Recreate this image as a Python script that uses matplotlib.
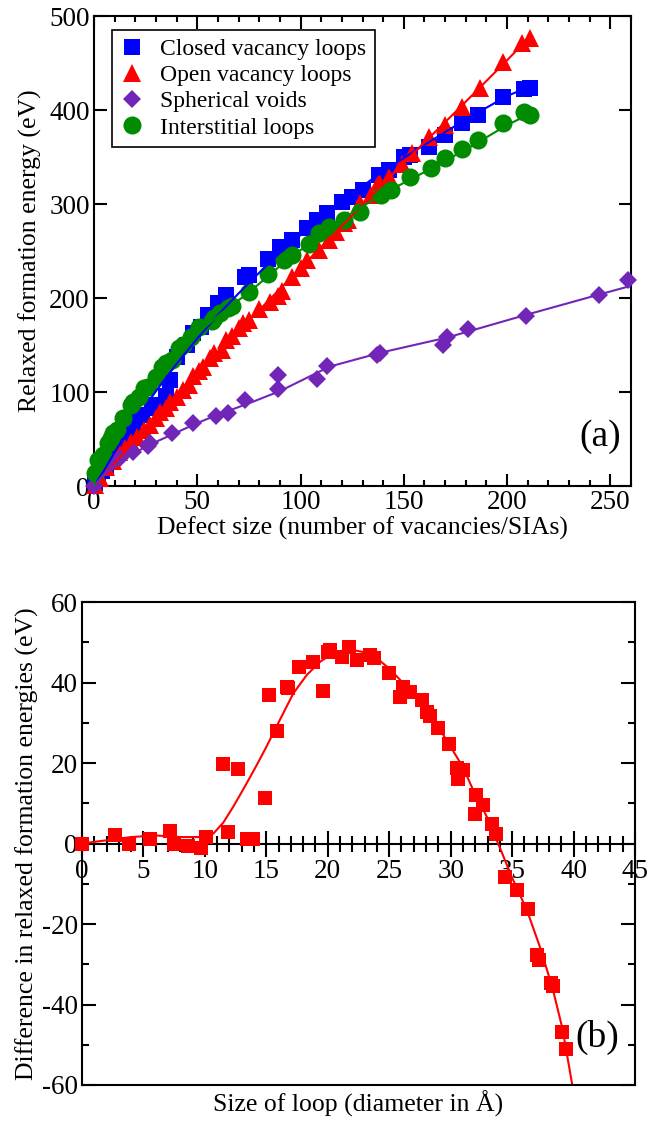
"""Formation energies of vacancy/interstitial defects and the open-minus-closed loop difference."""
import matplotlib
matplotlib.use("Agg")
import matplotlib.pyplot as plt
from matplotlib.ticker import MultipleLocator

plt.rcParams["font.family"] = ["Liberation Serif", "DejaVu Serif"]
plt.rcParams["axes.unicode_minus"] = False

# --- panel (a): relaxed formation energy vs defect size -------------------
closed_x = [0.5, 2, 4, 6, 9, 11, 14, 17, 19, 21, 23, 28, 30, 35, 37, 40, 45, 48, 52, 55,
            60, 64, 73, 75, 84, 90, 96, 103, 108, 113, 120, 125, 130, 138, 143, 150, 153,
            162, 170, 178, 186, 198, 208, 211]
closed_y = [3, 10, 16, 20, 31, 40, 46, 55, 60, 72, 76, 83, 86, 96, 113, 137, 150, 163, 169, 182,
            195, 203, 222, 224, 242, 254, 262, 274, 283, 291, 302, 308, 315, 331, 336, 350, 352,
            361, 373, 386, 395, 414, 422, 423]

open_x = [0.5, 3, 6, 9, 12, 15, 18, 21, 24, 27, 30, 32, 35, 37, 40, 43, 46, 48, 51, 53,
          56, 58, 62, 64, 67, 70, 72, 75, 80, 85, 89, 91, 96, 100, 103, 109, 114, 117, 121, 123,
          129, 134, 138, 143, 149, 154, 162, 170, 178, 187, 198, 207, 211]
open_y = [1, 8, 20, 27, 36, 40, 47, 52, 60, 65, 72, 79, 83, 89, 95, 102, 108, 117, 122, 127,
          136, 141, 145, 155, 160, 168, 173, 177, 188, 196, 202, 208, 222, 232, 240, 251, 262, 270,
          280, 283, 301, 310, 323, 329, 343, 354, 371, 384, 403, 423, 451, 471, 477]

void_x = [0, 3, 8, 12.6, 19, 26, 27, 38, 48, 59, 65, 73, 89, 89, 108, 113, 137, 138.5, 169, 171,
          181, 209, 244.6, 258.6]
void_y = [0, 15, 24, 30, 36, 43, 46, 56, 67, 75, 78, 91, 103, 118, 114, 128, 139, 141, 150, 159,
          167, 181, 203, 219]

inter_x = [0.5, 2, 3, 4.5, 7, 8, 9, 11, 14, 18, 19, 22, 24, 26, 30, 33, 35, 38, 41, 43,
           47, 51, 57, 58, 61, 65, 67, 75, 84, 92, 96, 104, 109, 114, 121, 129, 139, 144, 153, 163,
           170, 178, 186, 198, 208, 211]
inter_y = [14, 28, 28, 33, 46, 51, 56, 60, 72, 86, 89, 95, 104, 105, 116, 127, 131, 134, 147, 150,
           159, 169, 176, 179, 184, 189, 191, 206, 226, 240, 246, 258, 269, 276, 283, 292, 310, 315,
           329, 338, 349, 359, 368, 386, 398, 395]

# fitted curves
closed_fit_x = [0, 5, 10, 20, 30, 40, 50, 60, 70, 80, 90, 100, 120, 140, 160, 180, 200, 211]
closed_fit_y = [0, 17, 36, 70, 101, 130, 157, 182, 205, 227, 248, 267, 303, 335, 363, 390, 415, 425]
open_fit_x = [0, 25, 50, 75, 100, 125, 150, 175, 200, 211]
open_fit_y = [0, 61, 119, 176, 232, 288, 344, 398, 453, 478]
void_fit_x = [0, 5, 10, 20, 30, 40, 50, 60, 75, 90, 114, 139, 171, 209, 245, 260]
void_fit_y = [0, 13, 22, 36, 47, 57, 67, 76, 88, 101, 127, 142, 158, 182, 204, 213]
inter_fit_x = [0, 2, 5, 10, 15, 20, 30, 40, 50, 60, 75, 90, 100, 120, 140, 160, 180, 200, 211]
inter_fit_y = [0, 22, 36, 55, 73, 90, 117, 141, 162, 181, 206, 234, 251, 284, 311, 334, 358, 384, 396]

# --- panel (b): open minus closed loop energy vs loop diameter ------------
diff_x = [0, 2.7, 3.8, 5.5, 7.2, 7.5, 8.6, 9.7, 10.1, 11.5, 11.9, 12.7, 13.4, 13.9, 14.9, 15.2,
          15.9, 16.7, 16.8, 17.7, 18.8, 19.6, 20.0, 20.2, 21.2, 21.7, 22.4, 23.4, 23.8, 25.0,
          25.9, 26.1, 26.7, 27.7, 28.1, 28.3, 29.0, 29.9, 30.5, 30.6, 31.0, 32.0, 32.1, 32.6,
          33.4, 33.7, 34.4, 35.4, 36.3, 37.0, 37.2, 38.2, 38.3, 39.1, 39.4]
diff_y = [0, 2, 0, 1, 3, 0, -0.5, -1, 1.6, 19.7, 2.8, 18.5, 1, 1, 11.2, 36.9, 28, 39, 38.7, 43.8,
          45, 38, 47.5, 48, 46.4, 48.9, 45.6, 46.9, 46, 42.4, 36.4, 38.9, 37.7, 35.7, 32.7, 31.6,
          28.7, 24.7, 18.8, 16, 18.3, 7.3, 12.1, 9.6, 4.9, 2.4, -8.3, -11.5, -16.3, -27.7, -29,
          -34.6, -35.5, -46.8, -51]
diff_fit_x = [0, 2, 4, 6, 8, 10, 10.7, 11.5, 12.3, 13, 13.7, 14.4, 15, 16.1, 17.2, 18.3, 19.4,
              20.2, 21, 22, 23, 24, 25, 26, 27, 28, 29, 29.7, 31, 31.8, 33, 34, 35, 36.2, 37.3,
              38.3, 39.1, 39.9]
diff_fit_y = [0, 0.8, 1.6, 2.0, 1.6, 1.6, 2.5, 5.2, 9.1, 12.8, 16.6, 20.5, 24, 30.7, 37.3, 41.9,
              45.2, 46.8, 47.8, 48.1, 47.5, 46, 43.5, 40.3, 36.8, 33, 29, 25.5, 19, 13.5, 6.3, -1,
              -8.5, -16.5, -26, -36, -46, -60]

BLUE = "#0000ff"
RED = "#ff0000"
PURPLE = "#7226b8"
GREEN = "#008b00"

TICK_FS = 19.5
LABEL_FS = 18.5

fig = plt.figure(figsize=(6.47, 11.24), dpi=100)
ax1 = fig.add_axes([0.1453, 0.5676, 0.830, 0.4181])
ax2 = fig.add_axes([0.1267, 0.0347, 0.8547, 0.4297])

# panel (a)
sets = [
    (closed_x, closed_y, "s", 11, BLUE, "Closed vacancy loops"),
    (open_x, open_y, "^", 13, RED, "Open vacancy loops"),
    (void_x, void_y, "D", 9.5, PURPLE, "Spherical voids"),
    (inter_x, inter_y, "o", 13, GREEN, "Interstitial loops"),
]
for xs, ys, marker, ms, color, label in sets:
    ax1.plot(xs, ys, linestyle="none", marker=marker, ms=ms, color=color,
             mec=color, mew=0, label=label, clip_on=False, zorder=3)

fits = [
    (closed_fit_x, closed_fit_y, BLUE),
    (open_fit_x, open_fit_y, RED),
    (void_fit_x, void_fit_y, PURPLE),
    (inter_fit_x, inter_fit_y, GREEN),
]
for xs, ys, color in fits:
    ax1.plot(xs, ys, "-", color=color, lw=1.5, zorder=4)

ax1.set_xlim(0, 260)
ax1.set_ylim(0, 500)
ax1.xaxis.set_major_locator(MultipleLocator(50))
ax1.xaxis.set_minor_locator(MultipleLocator(10))
ax1.yaxis.set_major_locator(MultipleLocator(100))
ax1.tick_params(which="both", direction="in", top=True, right=True,
                labelsize=TICK_FS, width=1.5, pad=3)
ax1.tick_params(which="major", length=9)
ax1.tick_params(which="minor", length=4.5)
for spine in ax1.spines.values():
    spine.set_linewidth(1.5)
ax1.set_xlabel("Defect size (number of vacancies/SIAs)", fontsize=LABEL_FS, labelpad=1)
ax1.set_ylabel("Relaxed formation energy (eV)", fontsize=LABEL_FS, labelpad=5)

leg = ax1.legend(loc="upper left", bbox_to_anchor=(0.0335, 0.97), borderaxespad=0,
                 fontsize=17, fancybox=False, edgecolor="black", framealpha=1,
                 numpoints=1, handlelength=1.0, handletextpad=0.7,
                 labelspacing=0.2, borderpad=0.35)
leg.get_frame().set_linewidth(1.2)
ax1.text(0.942, 0.104, "(a)", transform=ax1.transAxes, fontsize=27,
         ha="center", va="center")

# panel (b)
ax2.plot(diff_x, diff_y, linestyle="none", marker="s", ms=10.5, color=RED, mew=0,
         clip_on=False, zorder=3)
ax2.plot(diff_fit_x, diff_fit_y, "-", color=RED, lw=1.5, zorder=4)

ax2.set_xlim(0, 45)
ax2.set_ylim(-60, 60)
ax2.xaxis.set_major_locator(MultipleLocator(5))
ax2.xaxis.set_minor_locator(MultipleLocator(1))
ax2.yaxis.set_major_locator(MultipleLocator(20))
ax2.yaxis.set_minor_locator(MultipleLocator(10))

# x axis runs through zero; frame bottom kept as a plain line
ax2.spines["bottom"].set_position(("data", 0))
ax2.axhline(-60, color="black", lw=1.5, clip_on=False, zorder=5)
for spine in ax2.spines.values():
    spine.set_linewidth(1.5)
ax2.tick_params(axis="x", which="both", direction="inout", top=False,
                labelsize=TICK_FS, width=1.5, pad=2)
ax2.tick_params(axis="x", which="major", length=19)
ax2.tick_params(axis="x", which="minor", length=12)
ax2.tick_params(axis="y", which="both", direction="in", right=True,
                labelsize=TICK_FS, width=1.5, pad=3)
ax2.tick_params(axis="y", which="major", length=10)
ax2.tick_params(axis="y", which="minor", length=5)

ax2.set_xlabel("Size of loop (diameter in Å)", fontsize=LABEL_FS)
ax2.xaxis.set_label_coords(0.5, -0.012)
ax2.set_ylabel("Difference in relaxed formation energies (eV)", fontsize=LABEL_FS, labelpad=2)
ax2.text(0.931, 0.098, "(b)", transform=ax2.transAxes, fontsize=27,
         ha="center", va="center")

fig.savefig("out.png", dpi=100)
plt.close(fig)
